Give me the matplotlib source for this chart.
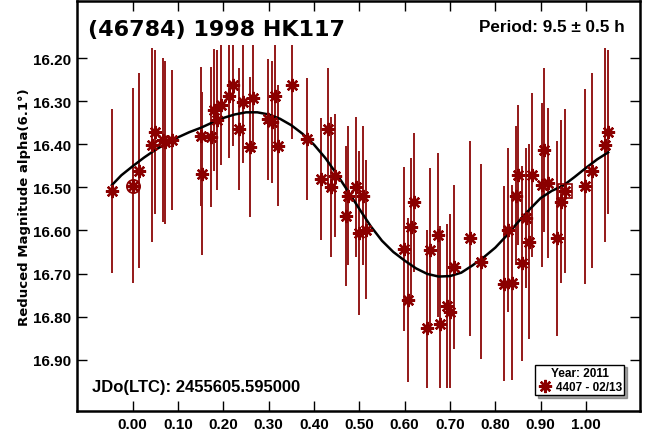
import matplotlib
matplotlib.use("Agg")
import matplotlib.pyplot as plt
from matplotlib.patches import Rectangle

plt.rcParams['font.family'] = ['Liberation Sans', 'DejaVu Sans']
plt.rcParams['font.weight'] = 'bold'

# ---- data ----
phase = [-0.046, 0.000, 0.014, 0.043, 0.049, 0.066, 0.071, 0.086, 0.150, 0.154,
         0.173, 0.180, 0.187, 0.195, 0.213, 0.221, 0.235, 0.244, 0.259, 0.265,
         0.298, 0.307, 0.314, 0.321, 0.352, 0.385, 0.415, 0.430, 0.437, 0.446,
         0.471, 0.476, 0.493, 0.499, 0.509, 0.515, 0.599, 0.607, 0.615, 0.621,
         0.650, 0.655, 0.673, 0.679, 0.694, 0.701, 0.709, 0.744, 0.768, 0.820,
         0.829, 0.837, 0.845, 0.851, 0.859, 0.867, 0.874, 0.882, 0.902, 0.908,
         0.917, 0.937, 0.946, 0.954, 0.999, 1.014, 1.042, 1.049]
mag = [16.508, 16.496, 16.461, 16.402, 16.372, 16.390, 16.396, 16.390, 16.382, 16.468,
       16.383, 16.321, 16.344, 16.308, 16.289, 16.262, 16.365, 16.303, 16.407, 16.293,
       16.342, 16.348, 16.287, 16.403, 16.263, 16.388, 16.481, 16.365, 16.500, 16.473,
       16.566, 16.519, 16.500, 16.606, 16.519, 16.598, 16.643, 16.761, 16.593, 16.535,
       16.827, 16.645, 16.611, 16.817, 16.776, 16.789, 16.684, 16.618, 16.673, 16.724,
       16.599, 16.721, 16.519, 16.471, 16.676, 16.571, 16.626, 16.471, 16.494, 16.413,
       16.490, 16.618, 16.533, 16.508, 16.498, 16.461, 16.402, 16.372]
err = [0.190, 0.227, 0.227, 0.226, 0.190, 0.190, 0.190, 0.162, 0.162, 0.190,
       0.163, 0.142, 0.162, 0.140, 0.142, 0.142, 0.142, 0.140, 0.162, 0.125,
       0.140, 0.142, 0.123, 0.140, 0.125, 0.142, 0.142, 0.142, 0.162, 0.142,
       0.162, 0.162, 0.162, 0.190, 0.162, 0.162, 0.190, 0.190, 0.162, 0.162,
       0.227, 0.190, 0.190, 0.227, 0.190, 0.227, 0.190, 0.226, 0.226, 0.226,
       0.190, 0.226, 0.162, 0.162, 0.226, 0.162, 0.226, 0.190, 0.190, 0.190,
       0.174, 0.226, 0.190, 0.190, 0.226, 0.226, 0.226, 0.190]

# special marked points
first_phase = [0.000]
first_mag = [16.496]
last_phase = [0.954]
last_mag = [16.508]

# fitted curve
fit_phase = [-0.046, -0.025, 0.000, 0.025, 0.050, 0.075, 0.100, 0.125, 0.150, 0.175,
             0.200, 0.225, 0.250, 0.275, 0.300, 0.325, 0.350, 0.375, 0.400, 0.425,
             0.450, 0.475, 0.500, 0.525, 0.550, 0.575, 0.600, 0.625, 0.650, 0.675,
             0.700, 0.725, 0.750, 0.775, 0.800, 0.825, 0.850, 0.875, 0.900, 0.925,
             0.950, 0.975, 1.000, 1.025, 1.049]
fit_mag = [16.495, 16.472, 16.451, 16.431, 16.413, 16.398, 16.384, 16.372, 16.362, 16.350,
           16.339, 16.331, 16.326, 16.326, 16.331, 16.341, 16.356, 16.376, 16.401, 16.432,
           16.469, 16.509, 16.550, 16.590, 16.624, 16.650, 16.670, 16.688, 16.701, 16.707,
           16.706, 16.698, 16.681, 16.662, 16.640, 16.612, 16.581, 16.552, 16.525, 16.508,
           16.496, 16.476, 16.455, 16.435, 16.419]

xticks = [0.0, 0.1, 0.2, 0.3, 0.4, 0.5, 0.6, 0.7, 0.8, 0.9, 1.0]
yticks = [16.2, 16.3, 16.4, 16.5, 16.6, 16.7, 16.8, 16.9]

title = "(46784) 1998 HK117"
period_text = "Period: 9.5 \u00b1 0.5 h"
jd_text = "JDo(LTC): 2455605.595000"
ylabel = "Reduced Magnitude alpha(6.1\u00b0)"
legend_title = "Year: 2011"
legend_label = "4407 - 02/13"

# ---- figure ----
fig = plt.figure(figsize=(6.45, 4.39), dpi=100)
ax = fig.add_axes([77/645, 1 - 412/439, 563/645, 410/439])
ax.set_xlim(-0.1229, 1.1193)
ax.set_ylim(17.019, 16.0677)

red = '#8b0000'
barc = '#941818'

eb = ax.errorbar(phase, mag, yerr=err, fmt='none', ecolor=barc, elinewidth=1.4,
                 capsize=0, zorder=2)
clip = Rectangle((-0.2, 16.17), 1.5, 16.965 - 16.17, transform=ax.transData)
for coll in eb.lines[2]:
    coll.set_clip_path(clip)

ax.plot(fit_phase, fit_mag, color='black', lw=1.8, zorder=3)
ax.plot(phase, mag, linestyle='none', marker=(8, 2, 0), markersize=9.5,
        markeredgewidth=1.7, color=red, zorder=4, label=legend_label)
ax.plot(first_phase, first_mag, linestyle='none', marker='o', markersize=9.5,
        markerfacecolor='none', markeredgecolor=red, markeredgewidth=1.3, zorder=4)
ax.plot(last_phase, last_mag, linestyle='none', marker='s', markersize=9.5,
        markerfacecolor='none', markeredgecolor=red, markeredgewidth=1.2, zorder=4)

ax.set_xticks(xticks)
ax.set_xticklabels([f"{v:.2f}" for v in xticks])
ax.set_yticks(yticks)
ax.set_yticklabels([f"{v:.2f}" for v in yticks])
ax.tick_params(direction='in', length=7, width=1, top=True, right=True,
               labeltop=False, labelright=False, labelsize=11, pad=4)
for lab in ax.get_xticklabels() + ax.get_yticklabels():
    lab.set_fontweight('bold')
for s in ax.spines.values():
    s.set_linewidth(1.8)

ax.set_ylabel(ylabel, fontsize=9.5, fontweight='bold', labelpad=2,
              family=['DejaVu Sans'])

ax.text(0.0195, 0.931, title, transform=ax.transAxes, fontsize=16,
        fontweight='bold', ha='left', va='center', family=['DejaVu Sans'])
ax.text(0.9734, 0.9377, period_text, transform=ax.transAxes, fontsize=12.3,
        fontweight='bold', ha='right', va='center')
ax.text(0.0266, 0.059, jd_text, transform=ax.transAxes, fontsize=12,
        fontweight='bold', ha='left', va='center')

leg = ax.legend(loc='lower right', bbox_to_anchor=(0.9716, 0.039),
                title=legend_title, frameon=True, fancybox=False, shadow=True,
                prop={'weight': 'bold', 'size': 8.5},
                title_fontproperties={'weight': 'bold', 'size': 8.5},
                borderpad=0.2, handletextpad=0.3, handlelength=1.2,
                borderaxespad=0, labelspacing=0.15)
leg.get_frame().set_edgecolor('black')
leg.get_frame().set_linewidth(1.0)

fig.savefig('out.png', dpi=100)
